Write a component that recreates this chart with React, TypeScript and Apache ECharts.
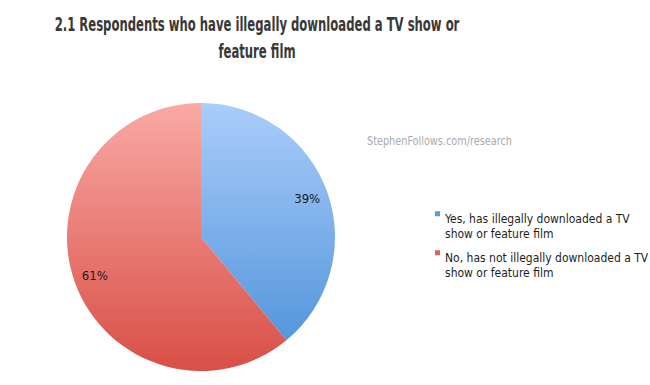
import React, { useEffect, useRef } from "react";
import * as echarts from "echarts";

const titleText = "2.1 Respondents who have illegally downloaded a TV show or\nfeature film";
const watermark = "StephenFollows.com/research";
const categories = [
  "Yes, has illegally downloaded a TV show or feature film",
  "No, has not illegally downloaded a TV show or feature film",
];
const values = [39, 61];
const legendLines: Record<string, string> = {
  "Yes, has illegally downloaded a TV show or feature film": "Yes, has illegally downloaded a TV\nshow or feature film",
  "No, has not illegally downloaded a TV show or feature film": "No, has not illegally downloaded a TV\nshow or feature film",
};

const CX = 201;
const CY = 237;
const R = 134;

const blueGrad = new echarts.graphic.LinearGradient(0, CY - R, 0, CY + R, [
  { offset: 0, color: "#aacdfa" },
  { offset: 1, color: "#4a8fd8" },
], true);
const redGrad = new echarts.graphic.LinearGradient(0, CY - R, 0, CY + R, [
  { offset: 0, color: "#faa9a5" },
  { offset: 1, color: "#d84f46" },
], true);
const fills = [blueGrad, redGrad];
const legendColors = ["#5b9be0", "#e0605a"];
// small square at top of a 5x30 box (bottom degenerate segment keeps the box height)
const legendIcon = "path://M0,0.5 L5,0.5 L5,5.5 L0,5.5 Z M0,30 L5,30 L0,30 Z";

export default function App() {
  const ref = useRef<HTMLDivElement>(null);
  useEffect(() => {
    document.body.style.margin = "0";
    const chart = echarts.init(ref.current!, null, { renderer: "svg" });
    const font = "'DejaVu Sans Condensed', 'Liberation Sans', sans-serif";
    chart.setOption({
      animation: false,
      backgroundColor: "#ffffff",
      graphic: [
        {
          type: "text",
          x: 257,
          y: 10,
          scaleX: 0.647,
          style: {
            text: titleText,
            fontFamily: font,
            fontWeight: "bold",
            fontSize: 20,
            lineHeight: 27,
            align: "center",
            verticalAlign: "top",
            fill: "#383838",
          },
        },
        {
          type: "text",
          x: 367,
          y: 135,
          scaleX: 0.9,
          style: {
            text: watermark,
            fontFamily: font,
            fontSize: 12,
            verticalAlign: "top",
            fill: "#ababab",
          },
        },
      ],
      legend: {
        orient: "vertical",
        left: 430,
        top: 206,
        itemWidth: 5,
        itemHeight: 30,
        itemGap: 9,
        icon: legendIcon,
        data: categories.map((c, i) => ({ name: c, itemStyle: { color: legendColors[i] } })),
        formatter: (n: string) => legendLines[n] || n,
        textStyle: {
          fontFamily: font,
          fontSize: 12,
          lineHeight: 15,
          color: "#1e1e1e",
        },
        selectedMode: false,
      },
      series: [
        {
          type: "pie",
          center: [CX, CY],
          radius: [0, R],
          startAngle: 90,
          clockwise: true,
          label: { show: false },
          labelLine: { show: false },
          silent: true,
          data: categories.map((c, i) => ({
            name: c,
            value: values[i],
            itemStyle: { color: fills[i] },
          })),
        },
        {
          type: "pie",
          center: [CX, CY],
          radius: [R * 0.64, R],
          startAngle: 90,
          clockwise: true,
          silent: true,
          itemStyle: { color: "rgba(0,0,0,0)" },
          label: {
            show: true,
            position: "inside",
            formatter: "{c}%",
            fontFamily: font,
            fontSize: 13,
            color: "#1a1a1a",
          },
          labelLine: { show: false },
          data: categories.map((c, i) => ({ name: c, value: values[i] })),
        },
      ],
    });
    return () => chart.dispose();
  }, []);
  return <div ref={ref} style={{ width: 650, height: 385 }} />;
}
